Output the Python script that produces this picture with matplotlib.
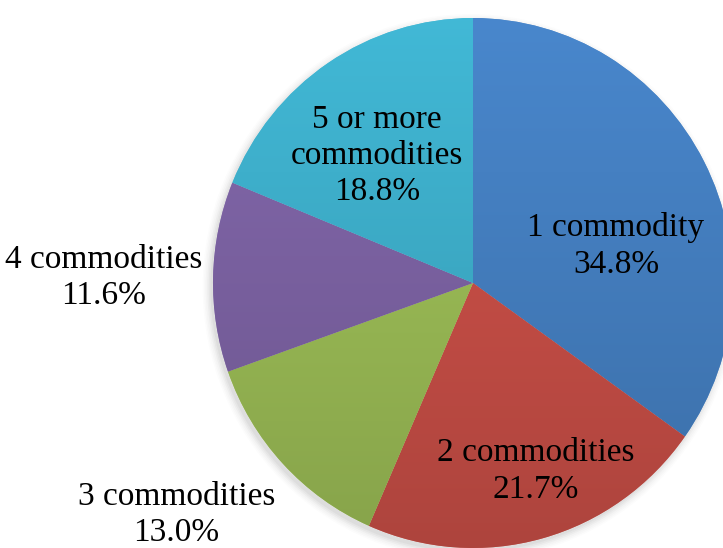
import numpy as np
import matplotlib
matplotlib.use("Agg")
import matplotlib.pyplot as plt
from matplotlib.colors import to_rgb
from matplotlib.patches import Ellipse

categories = ["1 commodity", "2 commodities", "3 commodities", "4 commodities",
              "5 or more\ncommodities"]
shares = [34.8, 21.7, 13.0, 11.6, 18.8]
colors = ["#4580c2", "#c94f47", "#9cbd56", "#7d63a4", "#3eafcb"]

# label anchor points (pie units: centre 0,0, radius 1)
label_xy = [(0.55, 0.14), (0.24, -0.71), (-1.14, -0.875), (-1.42, 0.02), (-0.37, 0.48)]

plt.rcParams["font.family"] = ["Liberation Serif", "DejaVu Serif"]

W, H, DPI = 723, 548, 100
fig = plt.figure(figsize=(W / DPI, H / DPI), dpi=DPI)
ax = fig.add_axes([0, 0, 1, 1])
ax.set_axis_off()

cx, cy = 473, 283          # pie centre in pixels
rx, ry = 260, 265          # pie radii in pixels
xlim = (-cx / rx, (W - cx) / rx)
ylim = (-(H - cy) / ry, cy / ry)

# soft drop shadow
for i, a in enumerate(np.linspace(0.05, 0.01, 6)):
    ax.add_patch(Ellipse((-0.01, -0.015), 2 + 0.012 * i, 2 + 0.012 * i,
                         facecolor="0.3", edgecolor="none", alpha=a, zorder=0))

wedges, _ = ax.pie(shares, colors=colors, startangle=90, counterclock=False,
                   radius=1, wedgeprops=dict(linewidth=0.6, edgecolor=(1, 1, 1, 0.25)))
for w in wedges:
    w.set_zorder(1)

# vertical shading inside every slice
shade = np.linspace(0.86, 1.06, 256)[:, None]
for w, c in zip(wedges, colors):
    base = np.array(to_rgb(c))
    img = np.clip(shade[..., None] * base[None, None, :], 0, 1)
    im = ax.imshow(img, extent=(-1.05, 1.05, -1.05, 1.05), origin="lower",
                   aspect="auto", zorder=2, interpolation="bilinear")
    im.set_clip_path(w)

ax.set_xlim(*xlim)
ax.set_ylim(*ylim)
ax.set_aspect("auto")

for cat, val, (lx, ly) in zip(categories, shares, label_xy):
    ax.text(lx, ly, f"{cat}\n{val:.1f}%", ha="center", va="center",
            fontsize=24, linespacing=1.25, color="black", zorder=5)

fig.savefig("out.png", dpi=DPI)
